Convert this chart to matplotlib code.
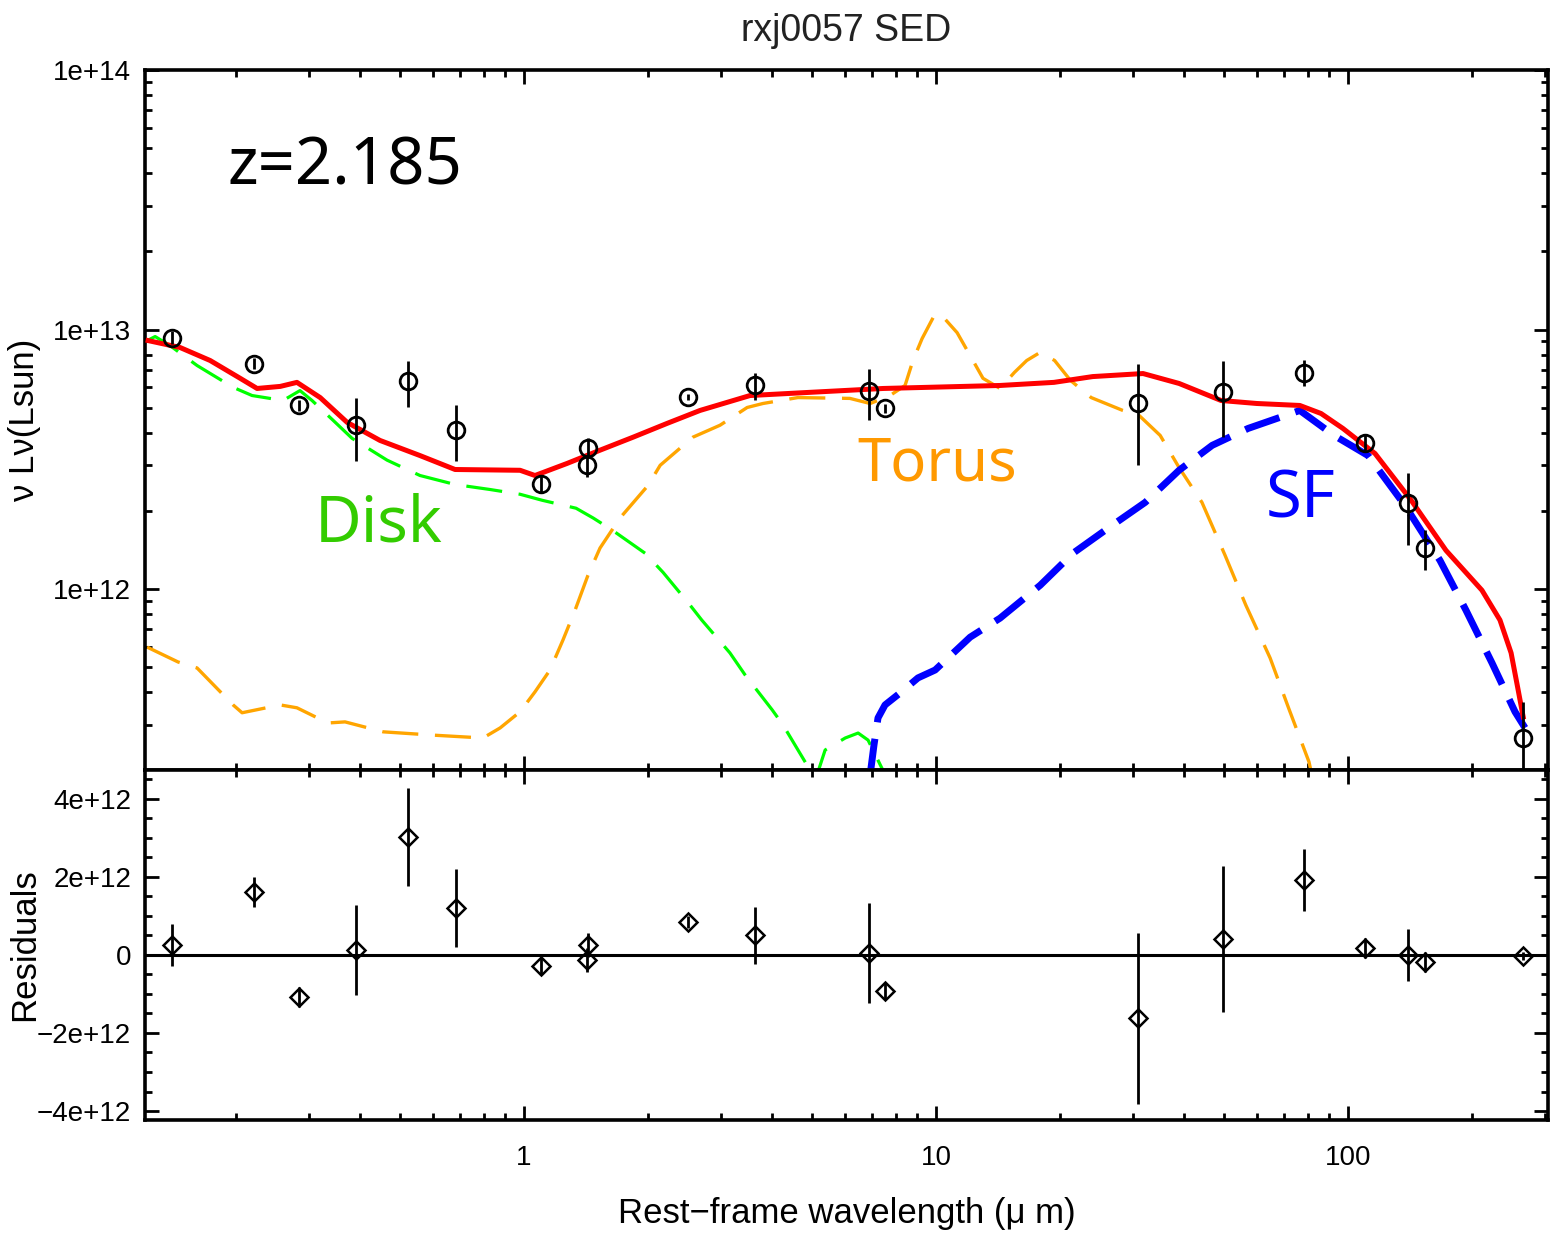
import matplotlib
matplotlib.use("Agg")
import matplotlib.pyplot as plt
import numpy as np
from matplotlib.ticker import FixedLocator, FixedFormatter, LogLocator, NullFormatter, MultipleLocator

# observed photometry (rest-frame um, Lsun) and residuals
wave = [0.1399, 0.2212, 0.2844, 0.391, 0.523, 0.684, 1.10, 1.430, 1.422, 2.50,
        3.64, 6.88, 7.52, 30.9, 49.7, 78.2, 110.0, 139.9, 153.8, 266.0]
lum = [9.31e12, 7.40e12, 5.10e12, 4.28e12, 6.31e12, 4.12e12, 2.54e12, 3.51e12, 3.00e12, 5.52e12,
       6.09e12, 5.78e12, 4.97e12, 5.19e12, 5.73e12, 6.83e12, 3.67e12, 2.14e12, 1.44e12, 2.67e11]
err = [0.54e12, 0.38e12, 0.26e12, 1.15e12, 1.26e12, 1.00e12, 0.20e12, 0.30e12, 0.30e12, 0.15e12,
       0.73e12, 1.28e12, 0.20e12, 2.19e12, 1.87e12, 0.79e12, 0.25e12, 0.66e12, 0.25e12, 0.10e12]
resid = [0.26e12, 1.62e12, -1.08e12, 0.13e12, 3.03e12, 1.20e12, -0.28e12, 0.26e12, -0.13e12, 0.85e12,
         0.51e12, 0.05e12, -0.92e12, -1.62e12, 0.41e12, 1.92e12, 0.18e12, 0.0, -0.18e12, -0.03e12]

# model components
disk_x = [0.1218, 0.1272, 0.1383, 0.1608, 0.1967, 0.2187, 0.260, 0.2858, 0.3057, 0.344, 0.3824,
          0.465, 0.559, 0.680, 0.827, 0.978, 1.106, 1.337, 1.471, 1.635, 1.967, 2.175, 2.53, 2.70,
          3.16, 3.44, 4.0, 4.25, 5.1, 5.38, 6.02, 6.47, 6.84, 7.52]
disk_y = [9.07e12, 9.4e12, 8.67e12, 7.27e12, 5.99e12, 5.57e12, 5.33e12, 5.82e12, 5.33e12, 4.47e12,
          3.81e12, 3.14e12, 2.74e12, 2.53e12, 2.42e12, 2.32e12, 2.20e12, 2.05e12, 1.88e12, 1.69e12,
          1.375e12, 1.16e12, 8.67e11, 7.6e11, 5.68e11, 4.67e11, 3.43e11, 3.0e11, 1.85e11, 2.40e11,
          2.67e11, 2.79e11, 2.62e11, 1.93e11]

torus_x = [0.1216, 0.1446, 0.1608, 0.1967, 0.2068, 0.256, 0.281, 0.334, 0.3677, 0.455, 0.598,
           0.795, 0.875, 0.978, 1.063, 1.156, 1.243, 1.330, 1.429, 1.529, 1.71, 2.0, 2.14, 2.57,
           2.99, 3.48, 3.80, 4.62, 6.18, 6.92, 7.73, 8.41, 8.79, 9.25, 9.95, 10.5, 11.25, 12.1,
           13.0, 14.3, 15.5, 16.6, 17.9, 19.4, 21.2, 23.8, 28.4, 31.1, 35.0, 38.9, 44.2, 50.3,
           56.5, 64.7, 72.0, 80.4, 83.2]
torus_y = [5.98e11, 5.24e11, 4.97e11, 3.58e11, 3.34e11, 3.58e11, 3.49e11, 3.05e11, 3.08e11,
           2.82e11, 2.74e11, 2.67e11, 2.92e11, 3.37e11, 4.02e11, 4.88e11, 6.37e11, 8.3e11, 1.13e12,
           1.44e12, 1.88e12, 2.51e12, 3.0e12, 3.85e12, 4.28e12, 5.01e12, 5.19e12, 5.47e12, 5.43e12,
           5.19e12, 5.57e12, 6.09e12, 7.6e12, 9.23e12, 1.15e13, 1.10e13, 9.73e12, 7.94e12, 6.49e12,
           5.93e12, 6.84e12, 7.6e12, 8.17e12, 7.6e12, 6.37e12, 5.47e12, 4.88e12, 4.67e12, 3.91e12,
           2.94e12, 2.16e12, 1.35e12, 8.67e11, 5.43e11, 3.43e11, 2.16e11, 1.69e11]

sf_x = [6.92, 7.07, 7.23, 7.52, 8.18, 9.04, 9.95, 12.1, 14.3, 17.9, 21.5, 26.2, 32.2, 38.9,
        46.8, 57.2, 69.2, 76.4, 92.5, 111.9, 137.5, 167.2, 193.3, 223.7, 254.3, 269.0]
sf_y = [1.93e11, 2.51e11, 3.19e11, 3.58e11, 3.98e11, 4.55e11, 4.88e11, 6.53e11, 7.73e11, 1.035e12,
        1.375e12, 1.72e12, 2.16e12, 2.87e12, 3.58e12, 4.16e12, 4.62e12, 4.88e12, 3.91e12, 3.27e12,
        2.10e12, 1.29e12, 8.3e11, 5.19e11, 3.37e11, 2.92e11]

total_x = [0.1223, 0.1462, 0.173, 0.2046, 0.2249, 0.256, 0.281, 0.320, 0.372, 0.447, 0.559,
           0.680, 0.978, 1.063, 1.272, 1.529, 1.840, 2.224, 2.674, 3.536, 4.94, 7.44, 14.3, 19.33,
           24.0, 31.8, 38.9, 49.2, 60.1, 76.4, 86.0, 97.2, 116.3, 142.3, 172.9, 211.4, 233.8,
           248.8, 258.8, 266.2]
total_y = [9.07e12, 8.53e12, 7.6e12, 6.49e12, 5.93e12, 6.04e12, 6.26e12, 5.47e12, 4.39e12,
           3.74e12, 3.27e12, 2.89e12, 2.87e12, 2.74e12, 3.05e12, 3.43e12, 3.85e12, 4.35e12,
           4.88e12, 5.57e12, 5.73e12, 5.93e12, 6.09e12, 6.26e12, 6.59e12, 6.77e12, 6.2e12, 5.33e12,
           5.19e12, 5.1e12, 4.75e12, 4.16e12, 3.33e12, 2.20e12, 1.41e12, 9.9e11, 7.6e11, 5.68e11,
           4.09e11, 3.22e11]

plt.rcParams['font.family'] = ['Liberation Sans', 'DejaVu Sans']
plt.rcParams['lines.scale_dashes'] = False
plt.rcParams['axes.unicode_minus'] = True

W, H = 1557, 1239
fig = plt.figure(figsize=(W / 100, H / 100), dpi=100)
L, R = 145, 1548
ax1 = fig.add_axes([L / W, 1 - 770 / H, (R - L) / W, 700 / H])
ax2 = fig.add_axes([L / W, 1 - 1120 / H, (R - L) / W, 350 / H], sharex=ax1)

dash = (26, 12)
ax1.plot(disk_x, disk_y, color='#00ff00', lw=2.3, dashes=dash, zorder=2)
ax1.plot(torus_x, torus_y, color='#ffa500', lw=2.4, dashes=dash, zorder=2)
ax1.plot(sf_x, sf_y, color='#0000ff', lw=5, dashes=dash, zorder=3)
ax1.plot(total_x, total_y, color='#ff0000', lw=3.6, zorder=4)
ax1.errorbar(wave, lum, yerr=err, fmt='o', ms=12, mfc='none', mec='black', mew=2,
             ecolor='black', elinewidth=2, capsize=0, zorder=5)

ax2.axhline(0, color='black', lw=2.2, zorder=1)
ax2.errorbar(wave, resid, yerr=err, fmt='D', ms=9.5, mfc='none', mec='black', mew=1.8,
             ecolor='black', elinewidth=2, capsize=0, zorder=5)

ax1.set_xscale('log')
ax1.set_yscale('log')
ax1.set_xlim(0.1202, 305.8)
ax1.set_ylim(2.01e11, 1e14)
ax2.set_ylim(-4.23e12, 4.74e12)

ax1.text(0.059, 0.836, 'z=2.185', transform=ax1.transAxes, fontsize=47,
         family='Noto Sans', color='black')
ax1.text(0.121, 0.326, 'Disk', transform=ax1.transAxes, fontsize=46,
         family='Noto Sans', color='#33cc00')
ax1.text(0.508, 0.414, 'Torus', transform=ax1.transAxes, fontsize=43,
         family='Noto Sans', color='#ff9900')
ax1.text(0.799, 0.361, 'SF', transform=ax1.transAxes, fontsize=47,
         family='Noto Sans', color='#0000ff')

for ax in (ax1, ax2):
    for s in ax.spines.values():
        s.set_linewidth(2.6)
    ax.tick_params(which='both', direction='in', top=True, right=True, width=2,
                   labelsize=20, pad=10)
    ax.tick_params(which='major', length=10)
    ax.tick_params(which='minor', length=5)

ax1.xaxis.set_major_locator(FixedLocator([1, 10, 100]))
ax1.xaxis.set_minor_locator(LogLocator(base=10, subs=np.arange(2, 10)))
ax1.xaxis.set_minor_formatter(NullFormatter())
ax1.tick_params(axis='x', labelbottom=False)

ax1.yaxis.set_major_locator(FixedLocator([1e12, 1e13, 1e14]))
ax1.yaxis.set_major_formatter(FixedFormatter(['1e+12', '1e+13', '1e+14']))
ax1.yaxis.set_minor_locator(LogLocator(base=10, subs=np.arange(2, 10)))
ax1.yaxis.set_minor_formatter(NullFormatter())

ax2.xaxis.set_major_formatter(FixedFormatter(['1', '10', '100']))
ax2.tick_params(axis='x', pad=18)
ax2.yaxis.set_major_locator(FixedLocator([-4e12, -2e12, 0, 2e12, 4e12]))
ax2.yaxis.set_major_formatter(FixedFormatter(['\u22124e+12', '\u22122e+12', '0', '2e+12', '4e+12']))
ax2.yaxis.set_minor_locator(MultipleLocator(5e11))

ax1.set_ylabel('\u03bd L\u03bd(Lsun)', fontsize=25)
ax1.yaxis.set_label_coords(-0.074, 0.5)
ax2.set_ylabel('Residuals', fontsize=25)
ax2.yaxis.set_label_coords(-0.074, 0.5)
ax2.set_xlabel('Rest\u2212frame wavelength (\u03bc m)', fontsize=25, labelpad=19)

fig.text((L + R) / 2 / W, 1 - 31 / H, 'rxj0057 SED', ha='center', va='center',
         fontsize=27, color='#222222')

fig.savefig('out.png', dpi=100)
